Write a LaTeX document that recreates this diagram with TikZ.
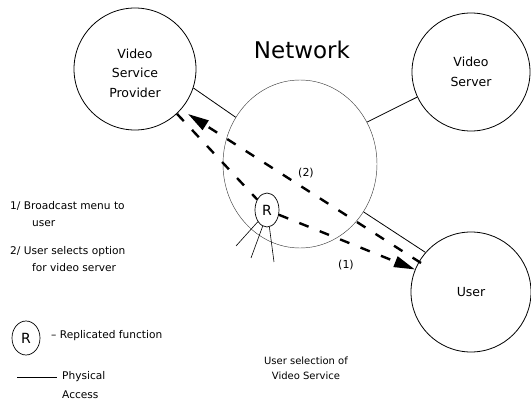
\documentclass[tikz,border=0pt]{standalone}
\usepackage{fontspec}
\setmainfont{DejaVu Sans}
\usetikzlibrary{shapes.geometric,arrows.meta,calc}

\tikzset{
  party/.style={circle, draw, line width=0.8pt, minimum size=#1, inner sep=0pt,
                align=center, font=\fontsize{12.5}{19.5}\selectfont},
  cloud/.style={ellipse, draw=black!75, line width=0.45pt, inner sep=0pt,
                minimum width=154pt, minimum height=168pt},
  repl/.style={ellipse, draw, line width=0.7pt, inner sep=0pt,
               minimum width=24pt, minimum height=34pt, font=\fontsize{14}{14}\selectfont},
  physical/.style={line width=0.8pt},
  flow/.style={line width=2.4pt, dash pattern=on 10pt off 12pt},
  flowtip/.style={-{Triangle[length=21pt,width=11pt]}},
  small/.style={font=\fontsize{10}{12}\selectfont, inner sep=0pt},
  note/.style={font=\fontsize{10.6}{12}\selectfont, inner sep=0pt, anchor=west},
  tag/.style={font=\fontsize{11}{12}\selectfont, inner sep=0pt}
}

\begin{document}
\begin{tikzpicture}[x=1pt,y=-1pt]
  \useasboundingbox (0,0) rectangle (531,401);

  % the four parties
  \node[party=122pt] (vsp)  at (135,69)  {};
  \node[align=center, font=\fontsize{12.5}{19.5}\selectfont, inner sep=0pt] (vspt)
    at (135,73) {Video\\Service\\Provider};
  \node[party=118pt] (vsrv) at (471,72)  {Video\\Server};
  \node[party=120pt] (user) at (471,292) {User};
  \node[cloud]       (net)  at (300,164) {};
  \node[font=\fontsize{23}{23}\selectfont, inner sep=0pt] (nettitle) at (302,50) {Network};

  % replicated function inside the network
  \node[repl] (r) at (267,210) {R};
  \coordinate (f1) at (236,246);
  \coordinate (f2) at (251,258);
  \coordinate (f3) at (274,262);
  \draw[line width=0.6pt] (r.-128) -- (f1);
  \draw[line width=0.6pt] (r.-105) -- (f2);
  \draw[line width=0.6pt] (r.-82)  -- (f3);

  % physical access links
  \draw[physical] (vsp.-18)  -- (net.144);
  \draw[physical] (net.32)   -- (vsrv.-155);
  \draw[physical] (net.-37)  -- (user.139);

  % (1) broadcast menu: provider -> R -> user
  \draw[flow] (vsp) -- (r);
  \draw[flow, flowtip] (r) -- (user);
  % (2) user selects option: user -> provider
  \draw[flow, flowtip] ($(user)+(-50,-29)$) -- ($(vsp)+(53,45)$);

  \node[tag] (l2) at (306,173) {(2)};
  \node[tag] (l1) at (346,265) {(1)};

  % notes on the left
  \node[note] (n1a) at (10,206) {1/ Broadcast menu to};
  \node[note] (n1b) at (32,224) {user};
  \node[note] (n2a) at (10,252) {2/ User selects option};
  \node[note] (n2b) at (32,268) {for video server};

  % legend
  \node[repl, minimum width=28pt] (lr) at (26,338) {R};
  \node[note] (lrt) at (51,336) {– Replicated function};
  \coordinate (la) at (17,377);
  \coordinate (lb) at (57,377);
  \draw[line width=0.6pt] (la) -- (lb);
  \node[note] (lp) at (62,377) {Physical};
  \node[note] (lac) at (62,395) {Access};

  % caption
  \node[small, align=center, font=\fontsize{10}{15}\selectfont] (cap) at (306,368)
    {User selection of\\Video Service};
\end{tikzpicture}
\end{document}
